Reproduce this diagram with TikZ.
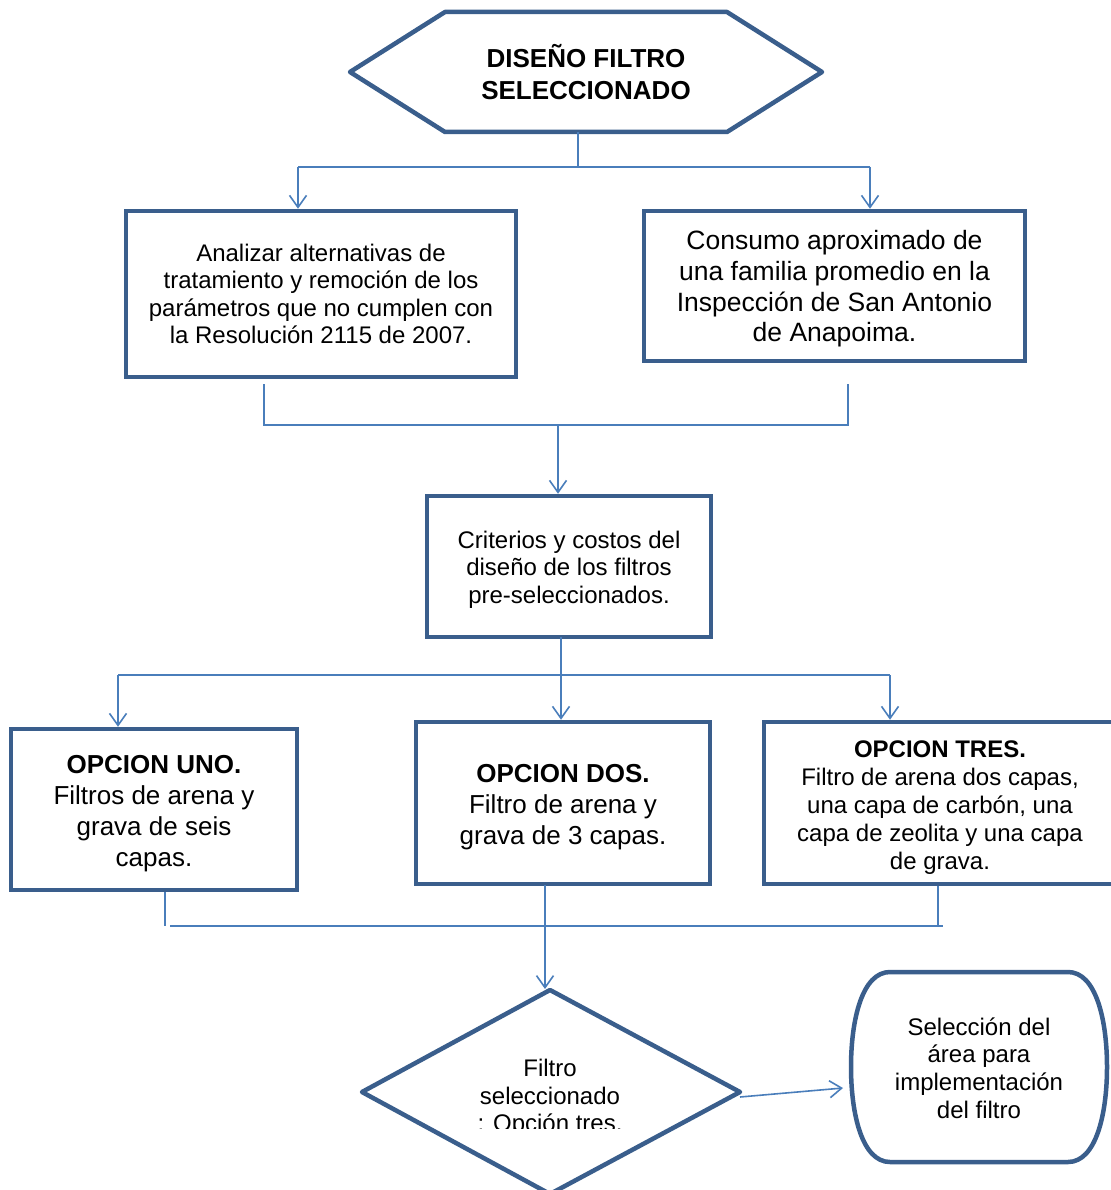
\documentclass[tikz,border=0pt]{standalone}
\usepackage{fontspec}
\setmainfont{Liberation Sans}
\usetikzlibrary{arrows.meta,calc}
\definecolor{boxc}{RGB}{58,94,140}
\definecolor{linec}{RGB}{74,126,187}
\begin{document}
\begin{tikzpicture}[x=1pt,y=-1pt,
  flowbox/.style={draw=boxc,line width=4.5pt,inner sep=0pt,align=center,fill=white},
  txt/.style={align=center,inner sep=0pt},
  shapeline/.style={draw=boxc,line width=4.5pt,line join=round},
  conn/.style={draw=linec,line width=1.6pt},
  arr/.style={conn,-{Straight Barb[length=12pt,width=17pt,line width=1.6pt]}},
  ftA/.style={font=\fontsize{24}{27.6}\selectfont},
  ftB/.style={font=\fontsize{26.5}{30.6}\selectfont},
  ftC/.style={font=\fontsize{26}{31}\selectfont},
  ftD/.style={font=\fontsize{24}{28}\selectfont},
  ftH/.style={font=\bfseries\fontsize{26}{32}\selectfont}]
\useasboundingbox (0,0) rectangle (1110,1190);
\fill[white] (0,0) rectangle (1110,1190);

% hexagon
\draw[shapeline] (350,72) -- (445,12) -- (727,12) -- (822,72) -- (727,132) -- (445,132) -- cycle;
\node[ftH,txt,minimum width=470pt,minimum height=120pt] (hex) at (586,72) {DISEÑO FILTRO\\SELECCIONADO};

% first row boxes
\node[flowbox,minimum width=390pt,minimum height=166pt] (b1) at (321,294) {};
\node[txt,ftA] (b1t) at (321,294)
  {Analizar alternativas de\\tratamiento y remoción de los\\parámetros que no cumplen con\\la Resolución 2115 de 2007.};
\node[flowbox,minimum width=381pt,minimum height=150pt] (b2) at (834.5,286) {};
\node[txt,ftB] (b2t) at (834.5,289)
  {Consumo aproximado de\\una familia promedio en la\\Inspección de San Antonio\\de Anapoima.};

% connectors top
\coordinate (h0) at (578,132);
\coordinate (h1) at (578,167);
\coordinate (hl) at (298,167);
\coordinate (hr) at (870,167);
\draw[conn] (h0) -- (h1);
\draw[conn] (hl) -- (hr);
\draw[arr] (hl) -- (hl |- b1.north);
\draw[arr] (hr) -- (hr |- b2.north);

% middle box
\node[flowbox,minimum width=284pt,minimum height=141pt] (b3) at (569,566.5) {};
\node[txt,ftA] (b3t) at (569,569.5)
  {Criterios y costos del\\diseño de los filtros\\pre-seleccionados.};

\coordinate (m1) at (264,384);
\coordinate (m2) at (848,384);
\coordinate (m1b) at (264,425);
\coordinate (m2b) at (848,425);
\coordinate (mc) at (558,425);
\draw[conn] (m1) -- (m1b) -- (m2b) -- (m2);
\draw[arr] (mc) -- (mc |- b3.north);

% options
\node[flowbox,minimum width=286pt,minimum height=161pt] (o1) at (154,809.5) {};
\node[txt,ftC] (o1t) at (154,813.5)
  {\textbf{OPCION UNO.}\\Filtros de arena y\\grava de seis\\capas.};
\node[flowbox,minimum width=294pt,minimum height=162pt] (o2) at (563,803) {};
\node[txt,ftC] (o2t) at (563,807)
  {\textbf{OPCION DOS.}\\Filtro de arena y\\grava de 3 capas.};
\node[flowbox,minimum width=400pt,minimum height=162pt] (o3) at (964,803) {};
\node[txt,ftD] (o3t) at (940,807.5)
  {\textbf{OPCION TRES.}\\Filtro de arena dos capas,\\una capa de carbón, una\\capa de zeolita y una capa\\de grava.};

\coordinate (s0) at (561,637);
\coordinate (sl) at (118,675);
\coordinate (sr) at (890,675);
\draw[conn] (sl) -- (sr);
\draw[arr] (s0) -- (s0 |- o2.north);
\draw[arr] (sl) -- (sl |- o1.north);
\draw[arr] (sr) -- (sr |- o3.north);

% lower connectors
\coordinate (u1) at (165,892);
\coordinate (u1b) at (165,926);
\coordinate (u3) at (938,886);
\coordinate (u3b) at (938,926);
\coordinate (ul) at (170,926);
\coordinate (ur) at (943,926);
\coordinate (d0) at (545,885);
\draw[conn] (u1) -- (u1b);
\draw[conn] (u3) -- (u3b);
\draw[conn] (ul) -- (ur);

% diamond
\draw[shapeline] (550,990) -- (740,1092) -- (550,1194) -- (362,1092) -- cycle;
\coordinate (dtop) at (545,989);
\draw[arr] (d0) -- (dtop);
\begin{scope}
  \clip (300,1000) rectangle (800,1128);
  \node[ftA,txt] (dia) at (550,1098) {Filtro\\seleccionado\\: Opción tres.};
\end{scope}

% rounded terminal
\draw[shapeline] (890,972) -- (1068,972) .. controls (1096,972) and (1107,1020) .. (1107,1067)
  .. controls (1107,1114) and (1096,1162) .. (1068,1162) -- (890,1162)
  .. controls (862,1162) and (851,1114) .. (851,1067)
  .. controls (851,1020) and (862,972) .. (890,972) -- cycle;
\node[ftA,txt] (sel) at (979,1068)
  {Selección del\\área para\\implementación\\del filtro};

\coordinate (e0) at (740,1097);
\coordinate (e1) at (843,1088);
\draw[arr] (e0) -- (e1);
\end{tikzpicture}
\end{document}
